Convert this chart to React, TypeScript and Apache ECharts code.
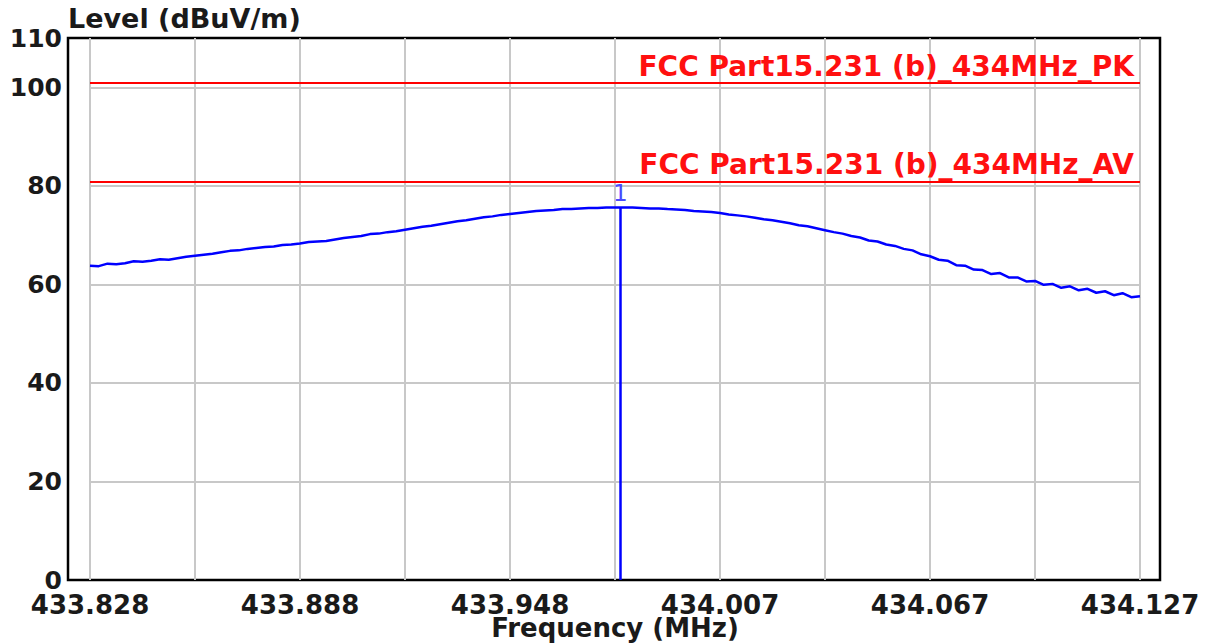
import React, { useEffect, useRef } from "react";
import * as echarts from "echarts";

const FREQ_START = 433.828;
const FREQ_STOP = 434.127;
const X_DIV = 0.0299;
const Y_TICKS = [0, 20, 40, 60, 80, 100, 110];

// Measured level trace (dBuV/m), 121 sweep points from FREQ_START to FREQ_STOP
const LEVELS = [
  63.8, 63.7, 64.2, 64.1, 64.3, 64.7, 64.6, 64.8, 65.1, 65.0,
  65.3, 65.6, 65.8, 66.0, 66.2, 66.5, 66.8, 66.9, 67.2, 67.4,
  67.6, 67.7, 68.0, 68.1, 68.3, 68.6, 68.7, 68.8, 69.1, 69.4,
  69.6, 69.8, 70.2, 70.3, 70.6, 70.8, 71.1, 71.4, 71.7, 71.9,
  72.2, 72.5, 72.8, 73.0, 73.3, 73.6, 73.8, 74.1, 74.3, 74.5,
  74.7, 74.9, 75.0, 75.1, 75.3, 75.3, 75.4, 75.5, 75.5, 75.6,
  75.6, 75.6, 75.6, 75.5, 75.4, 75.4, 75.3, 75.2, 75.1, 74.9,
  74.8, 74.7, 74.5, 74.2, 74.0, 73.8, 73.5, 73.2, 73.0, 72.7,
  72.4, 72.0, 71.8, 71.4, 71.0, 70.6, 70.3, 69.8, 69.5, 68.9,
  68.7, 68.1, 67.8, 67.2, 66.9, 66.1, 65.7, 65.0, 64.8, 63.9,
  63.8, 63.0, 62.9, 62.1, 62.3, 61.4, 61.4, 60.6, 60.7, 59.9,
  60.1, 59.3, 59.6, 58.8, 59.1, 58.3, 58.6, 57.8, 58.2, 57.4,
  57.6,
];

const LIMIT_PK = 100.83;
const LIMIT_AV = 80.83;
const LIMIT_PK_NAME = "FCC Part15.231 (b)_434MHz_PK";
const LIMIT_AV_NAME = "FCC Part15.231 (b)_434MHz_AV";
const MARKER_FREQ = 433.979;
const MARKER_LEVEL = 75.6;
const MARKER_LABEL = "1";
const X_NAME = "Frequency (MHz)";
const Y_NAME = "Level (dBuV/m)";

const FONT = "'DejaVu Sans', Verdana, sans-serif";
const W = 1211;
const H = 643;

export default function App() {
  const ref = useRef<HTMLDivElement>(null);
  useEffect(() => {
    if (!ref.current) return;
    const chart = echarts.init(ref.current, null, { renderer: "svg", width: W, height: H });
    const n = LEVELS.length;
    const span = FREQ_STOP - FREQ_START;
    const trace = LEVELS.map((v, i) => [(span * i) / (n - 1), v]);
    const mx = MARKER_FREQ - FREQ_START;
    chart.setOption({
      animation: false,
      backgroundColor: "#fff",
      textStyle: { fontFamily: FONT },
      grid: [
        { left: 68, right: 51, top: 38, bottom: 63, show: true, borderColor: "#000", borderWidth: 2.5, backgroundColor: "transparent", containLabel: false, outerBoundsMode: "none" },
        { left: 90, right: 71, top: 38, bottom: 63, containLabel: false, outerBoundsMode: "none" },
      ],
      xAxis: [
        { gridIndex: 0, type: "value", show: false, min: 0, max: 1 },
        {
          gridIndex: 1,
          type: "value",
          min: 0,
          max: span,
          interval: X_DIV,
          axisLine: { show: false },
          axisTick: { show: false },
          splitLine: { show: true, lineStyle: { color: "#c8c8c8", width: 2 } },
          axisLabel: {
            margin: 12,
            fontSize: 26,
            fontWeight: "bold",
            fontFamily: FONT,
            color: "#1a1a1a",
            formatter: (v: number) => {
              const idx = Math.round(v / X_DIV);
              if (Math.abs(v - idx * X_DIV) > 1e-6 || idx % 2 !== 0) return "";
              return (FREQ_START + v).toFixed(3);
            },
          },
        },
      ],
      yAxis: [
        { gridIndex: 0, type: "value", show: false, min: 0, max: 1 },
        {
          gridIndex: 1,
          type: "value",
          min: Y_TICKS[0],
          max: Y_TICKS[Y_TICKS.length - 1],
          interval: 20,
          axisLine: { show: false },
          axisTick: { show: false },
          splitLine: { show: true, showMinLine: false, showMaxLine: false, lineStyle: { color: "#c8c8c8", width: 2 } },
          axisLabel: {
            margin: 28,
            fontSize: 25,
            fontWeight: "bold",
            fontFamily: FONT,
            color: "#1a1a1a",
            verticalAlignMinLabel: "middle",
            verticalAlignMaxLabel: "middle",
            formatter: (v: number) => (Y_TICKS.includes(v) ? String(v) : ""),
          },
        },
      ],
      graphic: [
        {
          type: "text",
          left: 68,
          top: 5,
          style: { text: Y_NAME, fontSize: 27, fontWeight: "bold", fontFamily: FONT, fill: "#1a1a1a" },
        },
        {
          type: "text",
          x: 615,
          y: 628,
          style: { text: X_NAME, fontSize: 26, fontWeight: "bold", fontFamily: FONT, fill: "#1a1a1a", align: "center", verticalAlign: "middle" },
        },
      ],
      series: [
        {
          type: "line",
          xAxisIndex: 1,
          yAxisIndex: 1,
          data: trace,
          showSymbol: false,
          symbol: "none",
          lineStyle: { color: "#0000ff", width: 2.5 },
          z: 5,
          markLine: {
            silent: true,
            symbol: ["none", "none"],
            animation: false,
            data: [
              {
                yAxis: LIMIT_PK,
                lineStyle: { color: "#ff0000", width: 2, type: "solid" },
                label: { show: true, position: "insideEndTop", formatter: LIMIT_PK_NAME, color: "#ff1010", fontSize: 28, fontWeight: "bold", fontFamily: FONT, distance: [6, 3] },
              },
              {
                yAxis: LIMIT_AV,
                lineStyle: { color: "#ff0000", width: 2, type: "solid" },
                label: { show: true, position: "insideEndTop", formatter: LIMIT_AV_NAME, color: "#ff1010", fontSize: 28, fontWeight: "bold", fontFamily: FONT, distance: [6, 3] },
              },
              [
                { coord: [mx, 0], lineStyle: { color: "#0000ff", width: 2.5, type: "solid" }, label: { show: true, position: "end", formatter: MARKER_LABEL, color: "#4a4aff", fontSize: 23, fontFamily: FONT, distance: 3 } },
                { coord: [mx, MARKER_LEVEL] },
              ],
            ],
          },
        },
      ],
    });
    return () => chart.dispose();
  }, []);
  return <div ref={ref} style={{ width: W, height: H, position: "absolute", left: 0, top: 0 }} />;
}
